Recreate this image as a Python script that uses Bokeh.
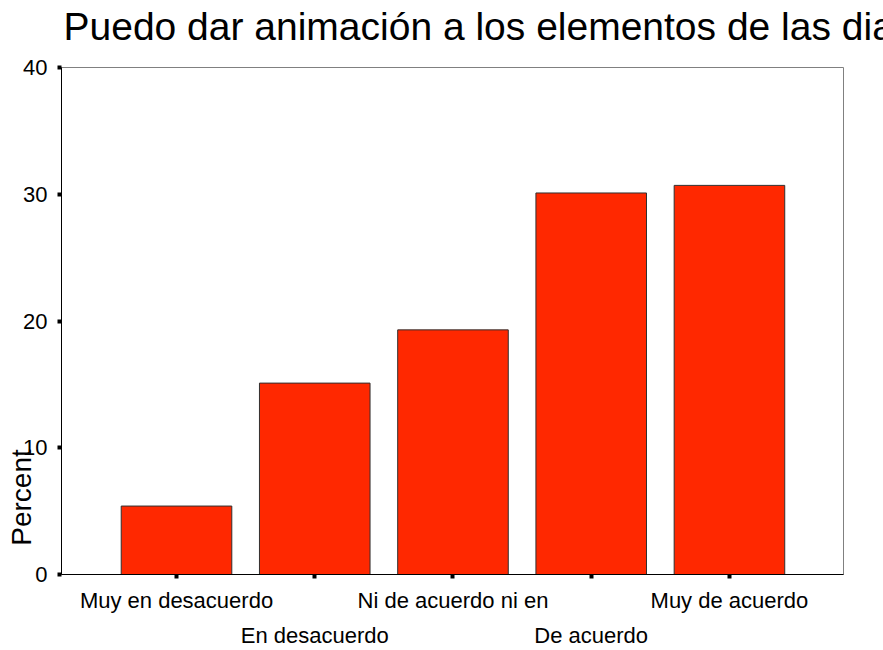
import math
from bokeh.plotting import figure
from bokeh.models import Range1d, FixedTicker, LinearAxis, Label, ColumnDataSource
from bokeh.embed import file_html
from bokeh.resources import INLINE

# ---- data ----
title_text = "Puedo dar animación a los elementos de las diapositivas"
categories = ["Muy en desacuerdo", "En desacuerdo", "Ni de acuerdo ni en", "De acuerdo", "Muy de acuerdo"]
percent = [5.4, 15.1, 19.3, 30.1, 30.7]
y_ticks = [0, 10, 20, 30, 40]
y_label = "Percent"

positions = list(range(1, len(categories) + 1))
FONT = "Liberation Sans"
TICK_SIZE = "22px"

src = ColumnDataSource(data=dict(x=positions, pct=percent, cat=categories))

p = figure(width=883, height=650, output_backend="svg", toolbar_location=None,
           title=None,
           x_range=Range1d(0.168, 5.825), y_range=Range1d(0, 40),
           min_border_left=61, min_border_top=67, min_border_right=40, min_border_bottom=76)

p.xgrid.visible = False
p.ygrid.visible = False
p.outline_line_color = "#808080"
p.outline_line_width = 1
p.background_fill_color = "white"
p.border_fill_color = "white"

p.vbar(x="x", top="pct", width=0.8, source=src,
       fill_color="#FF2800", line_color="#303030", line_width=1)

# y axis
ya = p.yaxis[0]
ya.ticker = FixedTicker(ticks=y_ticks)
ya.minor_tick_line_color = None
ya.major_tick_in = 0
ya.major_tick_out = 4
ya.major_tick_line_width = 4
ya.major_tick_line_color = "black"
ya.axis_line_color = "black"
ya.axis_line_width = 1
ya.major_label_text_font = FONT
ya.major_label_text_font_size = TICK_SIZE
ya.major_label_text_color = "black"
ya.major_label_standoff = 10

# x axis (first row of staggered labels)
xa = p.xaxis[0]
xa.ticker = FixedTicker(ticks=positions)
xa.major_label_overrides = {pos: (cat if i % 2 == 0 else "") for i, (pos, cat) in enumerate(zip(positions, categories))}
xa.minor_tick_line_color = None
xa.major_tick_in = 0
xa.major_tick_out = 4
xa.major_tick_line_width = 4
xa.major_tick_line_color = "black"
xa.axis_line_color = "black"
xa.major_label_text_font = FONT
xa.major_label_text_font_size = TICK_SIZE
xa.major_label_text_color = "black"
xa.major_label_standoff = 9

# second row of staggered labels
even_pos = [pos for i, pos in enumerate(positions) if i % 2 == 1]
xa2 = LinearAxis(ticker=FixedTicker(ticks=even_pos),
                 major_label_overrides={pos: categories[pos - 1] for pos in even_pos})
xa2.axis_line_color = None
xa2.major_tick_line_color = None
xa2.minor_tick_line_color = None
xa2.major_label_text_font = FONT
xa2.major_label_text_font_size = TICK_SIZE
xa2.major_label_text_color = "black"
xa2.major_label_standoff = 1
p.add_layout(xa2, "below")

# chart title (canvas position, left-aligned, cut by the window edge as in the original)
title_lab = Label(x=63, y=26, x_units="canvas", y_units="canvas", text=title_text,
                  text_align="left", text_baseline="alphabetic",
                  text_font=FONT, text_font_size="39px", text_color="black")
p.add_layout(title_lab, "above")

# y-axis title placed low, as in the original (side panel so it is not clipped)
lab = Label(x=21, y=497, x_units="canvas", y_units="canvas", text=y_label,
            angle=math.pi / 2, text_align="center", text_baseline="middle",
            text_font=FONT, text_font_size="28px", text_color="black")
p.add_layout(lab, "right")

open("out.html", "w").write(file_html(p, INLINE))
